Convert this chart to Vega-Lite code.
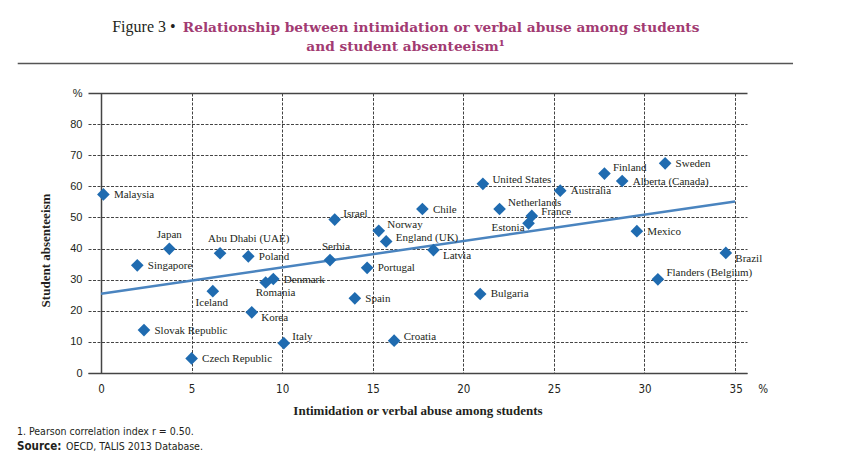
{
  "$schema": "https://vega.github.io/schema/vega-lite/v6.json",
  "background": "white",
  "padding": {"left": 16, "top": 19, "right": 0, "bottom": 0},
  "config": {"view": {"stroke": null}},
  "datasets": {
    "points": [
      {"country": "Malaysia", "x": 0.13, "y": 57.4},
      {"country": "Japan", "x": 3.77, "y": 39.9},
      {"country": "Singapore", "x": 2.0, "y": 34.6},
      {"country": "Abu Dhabi (UAE)", "x": 6.57, "y": 38.5},
      {"country": "Poland", "x": 8.13, "y": 37.5},
      {"country": "Iceland", "x": 6.17, "y": 26.3},
      {"country": "Denmark", "x": 9.51, "y": 30.2},
      {"country": "Romania", "x": 9.09, "y": 29.1},
      {"country": "Korea", "x": 8.32, "y": 19.5},
      {"country": "Slovak Republic", "x": 2.37, "y": 13.8},
      {"country": "Italy", "x": 10.09, "y": 9.6},
      {"country": "Czech Republic", "x": 5.0, "y": 4.7},
      {"country": "Israel", "x": 12.9, "y": 49.3},
      {"country": "Serbia", "x": 12.64, "y": 36.3},
      {"country": "Norway", "x": 15.33, "y": 45.7},
      {"country": "England (UK)", "x": 15.74, "y": 42.3},
      {"country": "Chile", "x": 17.74, "y": 52.7},
      {"country": "Portugal", "x": 14.69, "y": 33.8},
      {"country": "Latvia", "x": 18.35, "y": 39.5},
      {"country": "Spain", "x": 14.01, "y": 24.0},
      {"country": "Croatia", "x": 16.18, "y": 10.4},
      {"country": "United States", "x": 21.08, "y": 60.8},
      {"country": "Netherlands", "x": 22.0, "y": 52.7},
      {"country": "Bulgaria", "x": 20.93, "y": 25.4},
      {"country": "Estonia", "x": 23.6, "y": 48.1},
      {"country": "France", "x": 23.78, "y": 50.5},
      {"country": "Australia", "x": 25.35, "y": 58.6},
      {"country": "Finland", "x": 27.79, "y": 64.1},
      {"country": "Alberta (Canada)", "x": 28.77, "y": 61.7},
      {"country": "Sweden", "x": 31.14, "y": 67.4},
      {"country": "Mexico", "x": 29.58, "y": 45.6},
      {"country": "Brazil", "x": 34.49, "y": 38.6},
      {"country": "Flanders (Belgium)", "x": 30.74, "y": 30.1}
    ],
    "trend": [
      {"x": 0, "y": 25.5},
      {"x": 35, "y": 55.1}
    ]
  },
  "title": {
    "text": ["1. Pearson correlation index r = 0.50.", "\u200b\u2003\u2003\u2003\u2003\u2003\u2009OECD, TALIS 2013 Database."],
    "orient": "bottom",
    "anchor": "start",
    "frame": "bounds",
    "font": "DejaVu Sans Condensed, Liberation Sans",
    "fontSize": 10.5,
    "fontWeight": "normal",
    "color": "#231f20",
    "lineHeight": 15,
    "subtitle": "Source:",
    "subtitleFont": "DejaVu Sans Condensed, Liberation Sans",
    "subtitleFontSize": 11.5,
    "subtitleFontWeight": "bold",
    "subtitleColor": "#231f20",
    "subtitlePadding": -12,
    "offset": 10
  },
  "vconcat": [
    {
      "width": 659,
      "height": 280,
      "title": {
        "text": ["\u200b\u2003\u2003\u2003\u2003\u2003\u2009Relationship between intimidation or verbal abuse among students", "and student absenteeism\u00b9"],
        "anchor": "middle",
        "frame": "group",
        "dx": -12,
        "font": "DejaVu Serif",
        "fontSize": 13.7,
        "fontWeight": "bold",
        "color": "#a23b72",
        "lineHeight": 19,
        "subtitle": "Figure 3 \u2022\u2003\u2003\u2003\u2003\u2003\u2003\u2003\u2003\u2003\u2003\u2003\u2003\u2003\u2003\u2003\u2003\u2003\u2003\u2003\u2003\u2003\u2003\u2003\u2003\u2003\u2003\u2003\u2003\u2003\u2003\u2003\u2003\u2002\u2009\u200b",
        "subtitleFont": "Liberation Serif",
        "subtitleFontSize": 16,
        "subtitleColor": "#231f20",
        "subtitlePadding": -34,
        "offset": 8
      },
      "layer": [
        {
          "data": {"values": [{}]},
          "mark": {"type": "rule", "clip": false, "color": "#555555", "strokeWidth": 1.5},
          "encoding": {
            "x": {
              "datum": -4.6,
              "type": "quantitative",
              "scale": {"domain": [-0.72, 35.66], "nice": false, "zero": false},
              "axis": {
                "title": "Intimidation or verbal abuse among students",
                "values": [0, 5, 10, 15, 20, 25, 30, 35],
                "labelExpr": "datum.value == 35 ? '35\u2003\u2002%' : datum.label",
                "labelAlign": {"condition": {"test": "datum.value == 35", "value": "left"}, "value": "center"},
                "labelOffset": {"condition": {"test": "datum.value == 35", "value": -6}, "value": 0},
                "grid": true,
                "gridColor": "#444444",
                "gridDash": {"condition": {"test": "datum.value == 0", "value": []}, "value": [3, 1.5]},
                "gridWidth": {"condition": {"test": "datum.value == 0", "value": 1.5}, "value": 1},
                "ticks": false,
                "tickSize": 0,
                "domain": true,
                "domainColor": "#444444",
                "domainWidth": 1.5,
                "labelFont": "DejaVu Sans Condensed, Liberation Sans",
                "labelFontSize": 11.5,
                "labelColor": "#231f20",
                "labelPadding": 10,
                "labelOverlap": false,
                "labelFlush": false,
                "labelBound": false,
                "titleFont": "Liberation Serif",
                "titleFontSize": 13,
                "titleFontWeight": "bold",
                "titleColor": "#231f20",
                "titleY": 37,
                "titleBaseline": "middle"
              }
            },
            "x2": {"datum": 38.2},
            "y": {
              "datum": 99.5,
              "type": "quantitative",
              "scale": {"domain": [0, 90], "nice": false, "zero": false},
              "axis": {
                "title": "Student absenteeism",
                "values": [0, 10, 20, 30, 40, 50, 60, 70, 80, 90],
                "labelExpr": "datum.value == 90 ? '%' : datum.label",
                "grid": true,
                "gridColor": "#444444",
                "gridDash": {"condition": {"test": "datum.value == 90 || datum.value == 0", "value": []}, "value": [3, 1.5]},
                "gridWidth": {"condition": {"test": "datum.value == 90", "value": 1.5}, "value": 1},
                "domain": false,
                "ticks": false,
                "tickSize": 0,
                "labelFont": "Liberation Sans",
                "labelFontSize": 11,
                "labelColor": "#231f20",
                "labelPadding": 6,
                "labelOverlap": false,
                "titleFont": "Liberation Serif",
                "titleFontSize": 13,
                "titleFontWeight": "bold",
                "titleColor": "#231f20",
                "titleX": -43,
                "titleY": 157,
                "titleBaseline": "middle"
              }
            }
          }
        },
        {
          "encoding": {
            "x": {
              "field": "x",
              "type": "quantitative",
              "scale": {"domain": [-0.72, 35.66], "nice": false, "zero": false},
              "axis": {
                "title": "Intimidation or verbal abuse among students",
                "values": [0, 5, 10, 15, 20, 25, 30, 35],
                "labelExpr": "datum.value == 35 ? '35\u2003\u2002%' : datum.label",
                "labelAlign": {"condition": {"test": "datum.value == 35", "value": "left"}, "value": "center"},
                "labelOffset": {"condition": {"test": "datum.value == 35", "value": -6}, "value": 0},
                "grid": true,
                "gridColor": "#444444",
                "gridDash": {"condition": {"test": "datum.value == 0", "value": []}, "value": [3, 1.5]},
                "gridWidth": {"condition": {"test": "datum.value == 0", "value": 1.5}, "value": 1},
                "ticks": false,
                "tickSize": 0,
                "domain": true,
                "domainColor": "#444444",
                "domainWidth": 1.5,
                "labelFont": "DejaVu Sans Condensed, Liberation Sans",
                "labelFontSize": 11.5,
                "labelColor": "#231f20",
                "labelPadding": 10,
                "labelOverlap": false,
                "labelFlush": false,
                "labelBound": false,
                "titleFont": "Liberation Serif",
                "titleFontSize": 13,
                "titleFontWeight": "bold",
                "titleColor": "#231f20",
                "titleY": 37,
                "titleBaseline": "middle"
              }
            },
            "y": {
              "field": "y",
              "type": "quantitative",
              "scale": {"domain": [0, 90], "nice": false, "zero": false},
              "axis": {
                "title": "Student absenteeism",
                "values": [0, 10, 20, 30, 40, 50, 60, 70, 80, 90],
                "labelExpr": "datum.value == 90 ? '%' : datum.label",
                "grid": true,
                "gridColor": "#444444",
                "gridDash": {"condition": {"test": "datum.value == 90 || datum.value == 0", "value": []}, "value": [3, 1.5]},
                "gridWidth": {"condition": {"test": "datum.value == 90", "value": 1.5}, "value": 1},
                "domain": false,
                "ticks": false,
                "tickSize": 0,
                "labelFont": "Liberation Sans",
                "labelFontSize": 11,
                "labelColor": "#231f20",
                "labelPadding": 6,
                "labelOverlap": false,
                "titleFont": "Liberation Serif",
                "titleFontSize": 13,
                "titleFontWeight": "bold",
                "titleColor": "#231f20",
                "titleX": -43,
                "titleY": 157,
                "titleBaseline": "middle"
              }
            }
          },
          "layer": [
            {
              "data": {"name": "trend"},
              "mark": {"type": "line", "color": "#4a84bf", "strokeWidth": 2.5},
              "encoding": {}
            },
            {
              "data": {"name": "points"},
              "mark": {"type": "point", "shape": "diamond", "filled": true, "size": 160, "color": "#1f6bb0", "opacity": 1},
              "encoding": {}
            },
            {
              "data": {"name": "points"},
              "transform": [{"filter": {"field": "country", "oneOf": ["Malaysia", "Singapore", "Poland", "Denmark", "Slovak Republic", "Czech Republic", "Chile", "Portugal", "Spain", "Bulgaria", "Australia", "Alberta (Canada)", "Sweden", "Mexico"]}}],
              "mark": {"type": "text", "align": "left", "baseline": "middle", "dx": 10.5, "dy": 0.5, "font": "Liberation Serif", "fontSize": 11, "color": "#231f20"},
              "encoding": {"text": {"field": "country"}}
            },
            {
              "data": {"name": "points"},
              "transform": [{"filter": {"field": "country", "oneOf": ["Israel", "Italy", "Norway", "Netherlands", "Finland", "Flanders (Belgium)"]}}],
              "mark": {"type": "text", "align": "left", "baseline": "middle", "dx": 8.5, "dy": -6, "font": "Liberation Serif", "fontSize": 11, "color": "#231f20"},
              "encoding": {"text": {"field": "country"}}
            },
            {
              "data": {"name": "points"},
              "transform": [{"filter": {"field": "country", "oneOf": ["England (UK)", "Croatia", "United States", "France"]}}],
              "mark": {"type": "text", "align": "left", "baseline": "middle", "dx": 9.5, "dy": -3.5, "font": "Liberation Serif", "fontSize": 11, "color": "#231f20"},
              "encoding": {"text": {"field": "country"}}
            },
            {
              "data": {"name": "points"},
              "transform": [{"filter": {"field": "country", "oneOf": ["Korea", "Latvia", "Brazil"]}}],
              "mark": {"type": "text", "align": "left", "baseline": "middle", "dx": 9.5, "dy": 6, "font": "Liberation Serif", "fontSize": 11, "color": "#231f20"},
              "encoding": {"text": {"field": "country"}}
            },
            {
              "data": {"name": "points"},
              "transform": [{"filter": {"field": "country", "equal": "Japan"}}],
              "mark": {"type": "text", "align": "center", "baseline": "middle", "dx": 0, "dy": -13.5, "font": "Liberation Serif", "fontSize": 11, "color": "#231f20"},
              "encoding": {"text": {"field": "country"}}
            },
            {
              "data": {"name": "points"},
              "transform": [{"filter": {"field": "country", "equal": "Serbia"}}],
              "mark": {"type": "text", "align": "center", "baseline": "middle", "dx": 6, "dy": -13.5, "font": "Liberation Serif", "fontSize": 11, "color": "#231f20"},
              "encoding": {"text": {"field": "country"}}
            },
            {
              "data": {"name": "points"},
              "transform": [{"filter": {"field": "country", "equal": "Abu Dhabi (UAE)"}}],
              "mark": {"type": "text", "align": "left", "baseline": "middle", "dx": -12, "dy": -14, "font": "Liberation Serif", "fontSize": 11, "color": "#231f20"},
              "encoding": {"text": {"field": "country"}}
            },
            {
              "data": {"name": "points"},
              "transform": [{"filter": {"field": "country", "equal": "Iceland"}}],
              "mark": {"type": "text", "align": "center", "baseline": "middle", "dx": -1, "dy": 12, "font": "Liberation Serif", "fontSize": 11, "color": "#231f20"},
              "encoding": {"text": {"field": "country"}}
            },
            {
              "data": {"name": "points"},
              "transform": [{"filter": {"field": "country", "equal": "Romania"}}],
              "mark": {"type": "text", "align": "left", "baseline": "middle", "dx": -10, "dy": 10.5, "font": "Liberation Serif", "fontSize": 11, "color": "#231f20"},
              "encoding": {"text": {"field": "country"}}
            },
            {
              "data": {"name": "points"},
              "transform": [{"filter": {"field": "country", "equal": "Estonia"}}],
              "mark": {"type": "text", "align": "right", "baseline": "middle", "dx": -4, "dy": 5, "font": "Liberation Serif", "fontSize": 11, "color": "#231f20"},
              "encoding": {"text": {"field": "country"}}
            }
          ]
        }
      ]
    }
  ]
}
